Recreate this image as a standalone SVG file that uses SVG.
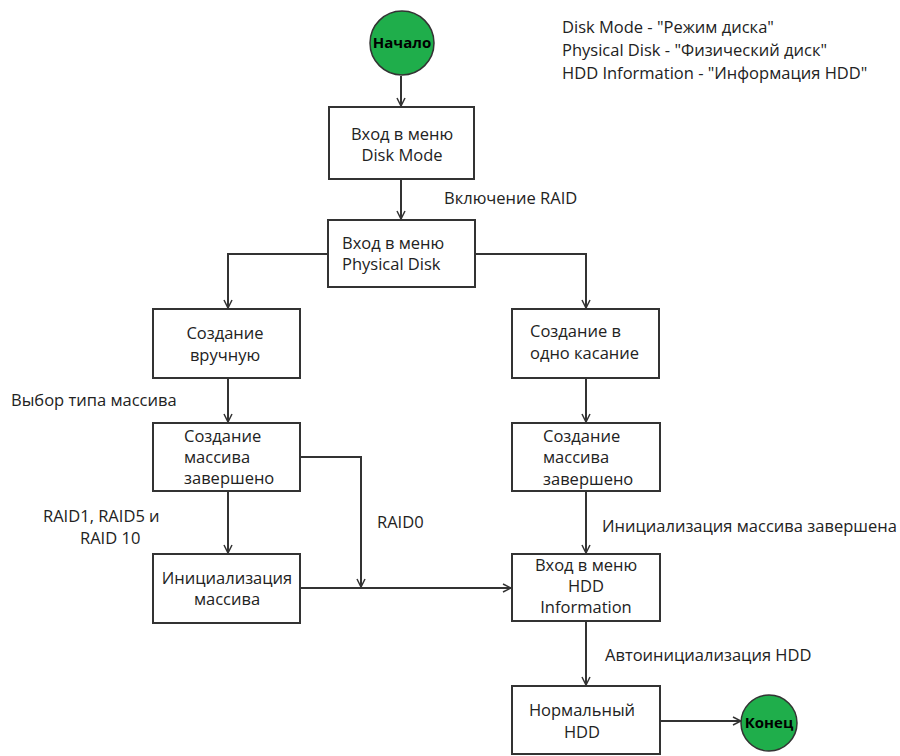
<svg xmlns="http://www.w3.org/2000/svg" width="900" height="756" viewBox="0 0 900 756">
<style>
.box{fill:#fff;stroke:#333;stroke-width:2}
.term{fill:#1fae4b;stroke:#333;stroke-width:1.5}
.t{font-family:"Open Sans","Liberation Sans",sans-serif;font-size:16.5px;fill:#222}
.c{text-anchor:middle}
.b{font-weight:bold;fill:#000;font-size:15px}
.con{fill:none;stroke:#333;stroke-width:2}
</style>
<defs>
<marker id="arr" viewBox="0 0 10 10" refX="9" refY="5" markerWidth="10" markerHeight="10" markerUnits="userSpaceOnUse" orient="auto">
<path d="M1,1 L9,5 L1,9" fill="none" stroke="#333" stroke-width="1.5"/>
</marker>
</defs>
<rect width="900" height="756" fill="#fff"/>

<g id="legend">
<text class="t" x="562" y="33">Disk Mode - "Режим диска"</text>
<text class="t" x="562" y="56">Physical Disk - "Физический диск"</text>
<text class="t" x="562" y="79">HDD Information - "Информация HDD"</text>
</g>

<g id="connectors">
<path class="con" d="M401,76 V106" marker-end="url(#arr)"/>
<path class="con" d="M401,179 V219" marker-end="url(#arr)"/>
<path class="con" d="M328,254 H228 V308" marker-end="url(#arr)"/>
<path class="con" d="M475,254 H586 V308" marker-end="url(#arr)"/>
<path class="con" d="M228,378 V422" marker-end="url(#arr)"/>
<path class="con" d="M228,491 V553" marker-end="url(#arr)"/>
<path class="con" d="M300,457 H361 V587" marker-end="url(#arr)"/>
<path class="con" d="M300,588 H511" marker-end="url(#arr)"/>
<path class="con" d="M586,378 V422" marker-end="url(#arr)"/>
<path class="con" d="M586,491 V553" marker-end="url(#arr)"/>
<path class="con" d="M586,621 V685" marker-end="url(#arr)"/>
<path class="con" d="M660,721 H741" marker-end="url(#arr)"/>
<text class="t" x="444" y="204">Включение RAID</text>
<text class="t" x="11" y="406">Выбор типа массива</text>
<text class="t" x="43" y="522">RAID1, RAID5  и</text>
<text class="t" x="80" y="544">RAID 10</text>
<text class="t" x="377" y="528">RAID0</text>
<text class="t" x="602" y="532">Инициализация массива завершена</text>
<text class="t" x="605" y="661">Автоинициализация HDD</text>
</g>

<g id="start">
<circle class="term" cx="402" cy="43" r="32"/>
<text class="t c b" x="402" y="48">Начало</text>
</g>

<g id="disk-mode">
<rect class="box" x="329" y="107" width="145" height="72"/>
<text class="t c" x="402" y="140">Вход в меню</text>
<text class="t c" x="402" y="161">Disk Mode</text>
</g>

<g id="physical-disk">
<rect class="box" x="328" y="220" width="147" height="67"/>
<text class="t" x="342" y="249">Вход в меню</text>
<text class="t" x="342" y="270">Physical Disk</text>
</g>

<g id="manual">
<rect class="box" x="153" y="309" width="147" height="69"/>
<text class="t c" x="225" y="339">Создание</text>
<text class="t c" x="225" y="361">вручную</text>
</g>

<g id="manual-done">
<rect class="box" x="153" y="423" width="147" height="68"/>
<text class="t" x="184" y="442">Создание</text>
<text class="t" x="184" y="463">массива</text>
<text class="t" x="184" y="484">завершено</text>
</g>

<g id="init">
<rect class="box" x="153" y="554" width="147" height="69"/>
<text class="t c" x="227" y="584">Инициализация</text>
<text class="t c" x="227" y="605">массива</text>
</g>

<g id="one-touch">
<rect class="box" x="512" y="309" width="147" height="69"/>
<text class="t" x="530" y="337">Создание в</text>
<text class="t" x="530" y="359">одно касание</text>
</g>

<g id="one-touch-done">
<rect class="box" x="512" y="423" width="148" height="68"/>
<text class="t" x="543" y="442">Создание</text>
<text class="t" x="543" y="463">массива</text>
<text class="t" x="543" y="485">завершено</text>
</g>

<g id="hdd-info">
<rect class="box" x="512" y="554" width="148" height="67"/>
<text class="t c" x="586" y="571">Вход в меню</text>
<text class="t c" x="586" y="592">HDD</text>
<text class="t c" x="586" y="613">Information</text>
</g>

<g id="normal">
<rect class="box" x="512" y="686" width="148" height="68"/>
<text class="t c" x="582" y="716">Нормальный</text>
<text class="t c" x="582" y="738">HDD</text>
</g>

<g id="end">
<circle class="term" cx="769" cy="723" r="28"/>
<text class="t c b" x="769" y="728">Конец</text>
</g>
</svg>
